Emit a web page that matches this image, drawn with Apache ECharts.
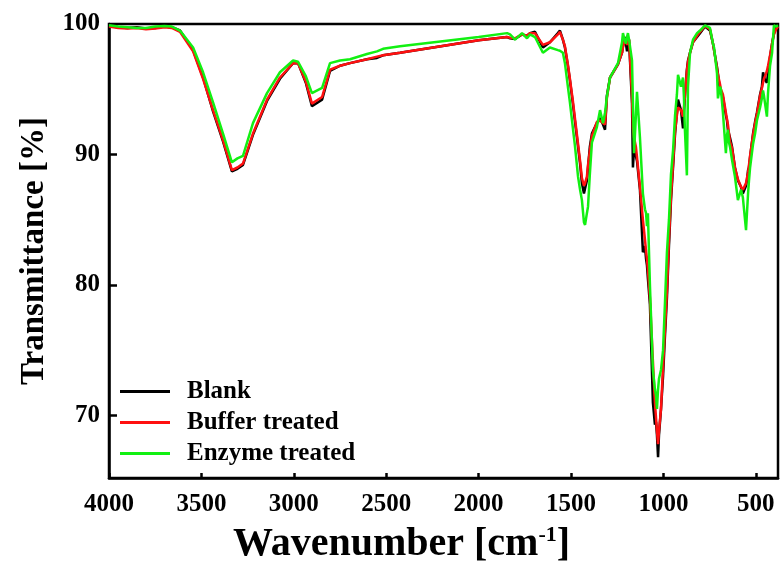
<!DOCTYPE html>
<html>
<head>
<meta charset="utf-8">
<script src="https://cdn.jsdelivr.net/npm/echarts@6/dist/echarts.min.js"></script>
<style>html,body{margin:0;padding:0;background:#fff}#c{width:781px;height:565px}</style>
</head>
<body>
<div id="c"></div>
<script>
const wavenumbers = [4000,3950,3900,3850,3800,3750,3700,3660,3616,3545,
 3491,3437,3383,3335,3305,3275,3221,3145,3075,3004,
 2977,2935,2902,2847,2804,2750,2696,2604,2550,2517,
 2425,2000,1846,1830,1803,1765,1738,1722,1695,1652,
 1614,1571,1560,1544,1533,1517,1506,1489,1479,1462,
 1451,1441,1430,1424,1414,1408,1398,1387,1360,1343,
 1327,1316,1306,1289,1246,1224,1219,1208,1203,1197,
 1192,1186,1170,1165,1159,1149,1143,1127,1111,1100,
 1094,1089,1084,1073,1057,1046,1040,1035,1029,1024,
 1013,1002,992,981,970,959,948,937,927,921,
 905,894,889,884,873,867,856,840,818,802,
 775,748,732,726,710,705,694,689,678,662,
 656,651,645,640,629,613,597,580,570,564,
 553,548,542,537,531,515,504,494,477,467,
 461,456,450,440,434,423,412,402,390,380];

const blank = [99.85,99.75,99.7,99.75,99.65,99.7,99.8,99.75,99.5,98.0,
 95.9,93.3,91.0,88.7,88.9,89.2,91.5,94.1,95.8,97.0,
 97.0,95.5,93.7,94.2,96.4,96.8,97.0,97.3,97.4,97.6,
 97.8,98.75,99.0,98.9,98.85,99.2,99.1,99.3,99.4,98.2,
 98.6,99.3,99.5,98.8,98.2,96.8,95.7,93.8,92.6,90.6,
 89.3,87.8,87.0,87.4,88.0,89.0,90.6,91.6,92.4,92.8,
 92.3,91.9,94.5,95.9,96.9,97.8,98.3,99.0,98.5,97.9,
 98.5,98.8,93.9,89.0,90.5,90.6,89.5,87.3,82.5,83.0,
 82.0,81.5,80.5,78.5,71.0,69.3,69.5,68.5,66.8,68.5,
 70.5,73.0,76.0,79.0,83.0,86.5,89.0,91.6,93.2,94.2,
 93.4,92.0,93.2,94.4,96.5,97.2,97.8,98.6,99.0,99.3,
 99.8,99.5,98.5,98.0,96.7,96.2,94.9,95.0,94.4,93.0,
 92.6,91.9,91.9,91.3,90.6,89.0,88.0,87.5,87.0,87.0,
 87.6,88.0,88.8,89.0,89.8,91.6,92.5,93.2,94.6,95.2,
 96.3,96.2,95.7,95.5,96.2,97.5,98.5,99.3,99.7,99.8];

const buffer = [99.8,99.7,99.65,99.7,99.6,99.65,99.75,99.7,99.4,97.9,
 95.8,93.4,91.1,88.8,89.0,89.3,91.6,94.2,95.9,97.0,
 97.0,95.6,93.9,94.4,96.5,96.8,97.0,97.3,97.5,97.6,
 97.8,98.75,99.0,98.95,98.9,99.2,99.1,99.3,99.3,98.4,
 98.6,99.2,99.4,98.8,98.3,96.9,95.8,94.0,92.8,90.8,
 89.5,88.2,87.6,87.8,88.3,89.2,90.3,91.4,92.5,92.6,
 92.4,92.3,94.3,95.9,96.9,97.8,98.2,98.9,98.7,98.4,
 98.6,98.8,94.5,92.0,91.3,90.6,89.8,87.5,85.0,83.5,
 82.6,82.0,81.2,79.0,74.2,71.0,69.8,68.8,67.8,68.8,
 70.5,73.7,76.5,79.5,83.5,86.8,89.3,91.8,93.0,93.6,
 93.4,92.9,93.6,94.4,96.4,97.1,97.8,98.6,99.1,99.4,
 99.85,99.6,98.5,98.0,96.6,96.1,95.4,95.0,94.6,93.2,
 92.7,92.3,91.6,91.0,90.5,89.0,88.1,87.5,87.3,87.2,
 87.8,88.2,88.6,89.2,89.9,91.5,92.4,93.1,94.5,95.1,
 95.5,95.8,96.0,96.4,96.8,97.6,98.5,99.2,99.6,99.8];

const enzyme = [99.9,99.8,99.75,99.7,99.7,99.8,99.85,99.8,99.5,98.2,
 96.3,94.0,91.6,89.4,89.7,89.9,92.4,94.7,96.3,97.2,
 97.1,96.0,94.7,95.1,97.0,97.2,97.3,97.7,97.9,98.1,
 98.3,99.0,99.3,99.2,98.8,99.3,98.9,99.2,99.0,97.8,
 98.2,98.0,97.95,97.8,97.0,95.2,94.0,91.9,90.7,88.3,
 87.3,86.5,84.8,84.6,85.5,86.0,88.5,90.9,92.1,93.4,
 92.4,93.2,94.4,95.9,97.0,98.6,99.3,98.7,98.5,99.0,
 99.3,98.8,97.2,94.0,90.1,93.0,94.8,91.3,87.0,85.8,
 85.5,84.5,85.5,80.0,73.5,72.0,71.5,70.5,72.0,72.8,
 73.5,75.0,78.5,82.5,85.0,88.5,90.3,93.0,94.6,96.1,
 95.2,95.9,94.4,92.0,88.4,95.2,97.8,98.8,99.3,99.5,
 99.9,99.7,98.5,98.2,96.2,94.3,95.2,95.0,93.2,90.1,
 91.5,91.9,90.9,90.6,89.6,88.3,86.5,87.3,86.7,85.8,
 84.2,85.5,87.0,88.0,89.0,90.8,91.6,92.6,93.6,94.3,
 94.9,94.5,93.9,92.9,94.7,96.8,97.8,99.9,99.8,99.9];

const seriesNames = ['Blank', 'Buffer treated', 'Enzyme treated'];
const seriesColors = ['#000000', '#ff1010', '#12f012'];
const xTicks = [4000, 3500, 3000, 2500, 2000, 1500, 1000, 500];
const yTicks = [70, 80, 90, 100];

const FONT = "'Liberation Serif', 'Times New Roman', serif";
const pairs = arr => wavenumbers.map((w, i) => [w, arr[i]]);
const allValues = [blank, buffer, enzyme];

const chart = echarts.init(document.getElementById('c'), null, {renderer: 'canvas'});
chart.setOption({
  animation: false,
  backgroundColor: '#ffffff',
  grid: {left: 109, right: 3, top: 24, bottom: 87, outerBoundsMode: 'none', containLabel: false, show: true, borderColor: '#000', borderWidth: 2.5, backgroundColor: 'transparent'},
  legend: {
    data: seriesNames,
    orient: 'vertical',
    left: 115,
    top: 374,
    icon: 'rect',
    itemWidth: 50,
    itemHeight: 3,
    itemGap: 6,
    textStyle: {fontFamily: FONT, fontWeight: 'bold', fontSize: 25, color: '#000', padding: [0, 0, 0, 12]}
  },
  xAxis: {
    type: 'value',
    inverse: true,
    min: 380,
    max: 4000,
    name: '{a|Wavenumber [cm}{s|-1}{a|]}',
    nameLocation: 'middle',
    nameGap: 46,
    nameTextStyle: {
      padding: [0, 84, 0, 0],
      rich: {
        a: {fontFamily: FONT, fontWeight: 'bold', fontSize: 40, color: '#000'},
        s: {fontFamily: FONT, fontWeight: 'bold', fontSize: 22, color: '#000', padding: [0, 0, 20, 0]}
      }
    },
    axisLine: {show: true, lineStyle: {color: '#000', width: 2.5}},
    axisTick: {show: true, inside: true, length: 5, lineStyle: {color: '#000', width: 2.5}, customValues: xTicks},
    axisLabel: {customValues: xTicks, formatter: v => String(v), fontFamily: FONT, fontWeight: 'bold', fontSize: 25, color: '#000', margin: 14},
    splitLine: {show: false}
  },
  yAxis: {
    type: 'value',
    min: 65.2,
    max: 100,
    name: 'Transmittance [%]',
    nameLocation: 'middle',
    nameRotate: 90,
    nameGap: 58,
    nameTextStyle: {fontFamily: FONT, fontWeight: 'bold', fontSize: 33, color: '#000'},
    axisLine: {show: true, lineStyle: {color: '#000', width: 2.5}},
    axisTick: {show: true, inside: true, length: 8, lineStyle: {color: '#000', width: 2.5}, customValues: yTicks},
    axisLabel: {customValues: yTicks, formatter: v => String(v), fontFamily: FONT, fontWeight: 'bold', fontSize: 25, color: '#000', margin: 9},
    splitLine: {show: false}
  },
  series: seriesNames.map((name, i) => ({
    name: name,
    type: 'line',
    data: pairs(allValues[i]),
    showSymbol: false,
    symbol: 'none',
    color: seriesColors[i],
    lineStyle: {color: seriesColors[i], width: 2.5},
    z: 2 + i
  }))
});
</script>
</body>
</html>
